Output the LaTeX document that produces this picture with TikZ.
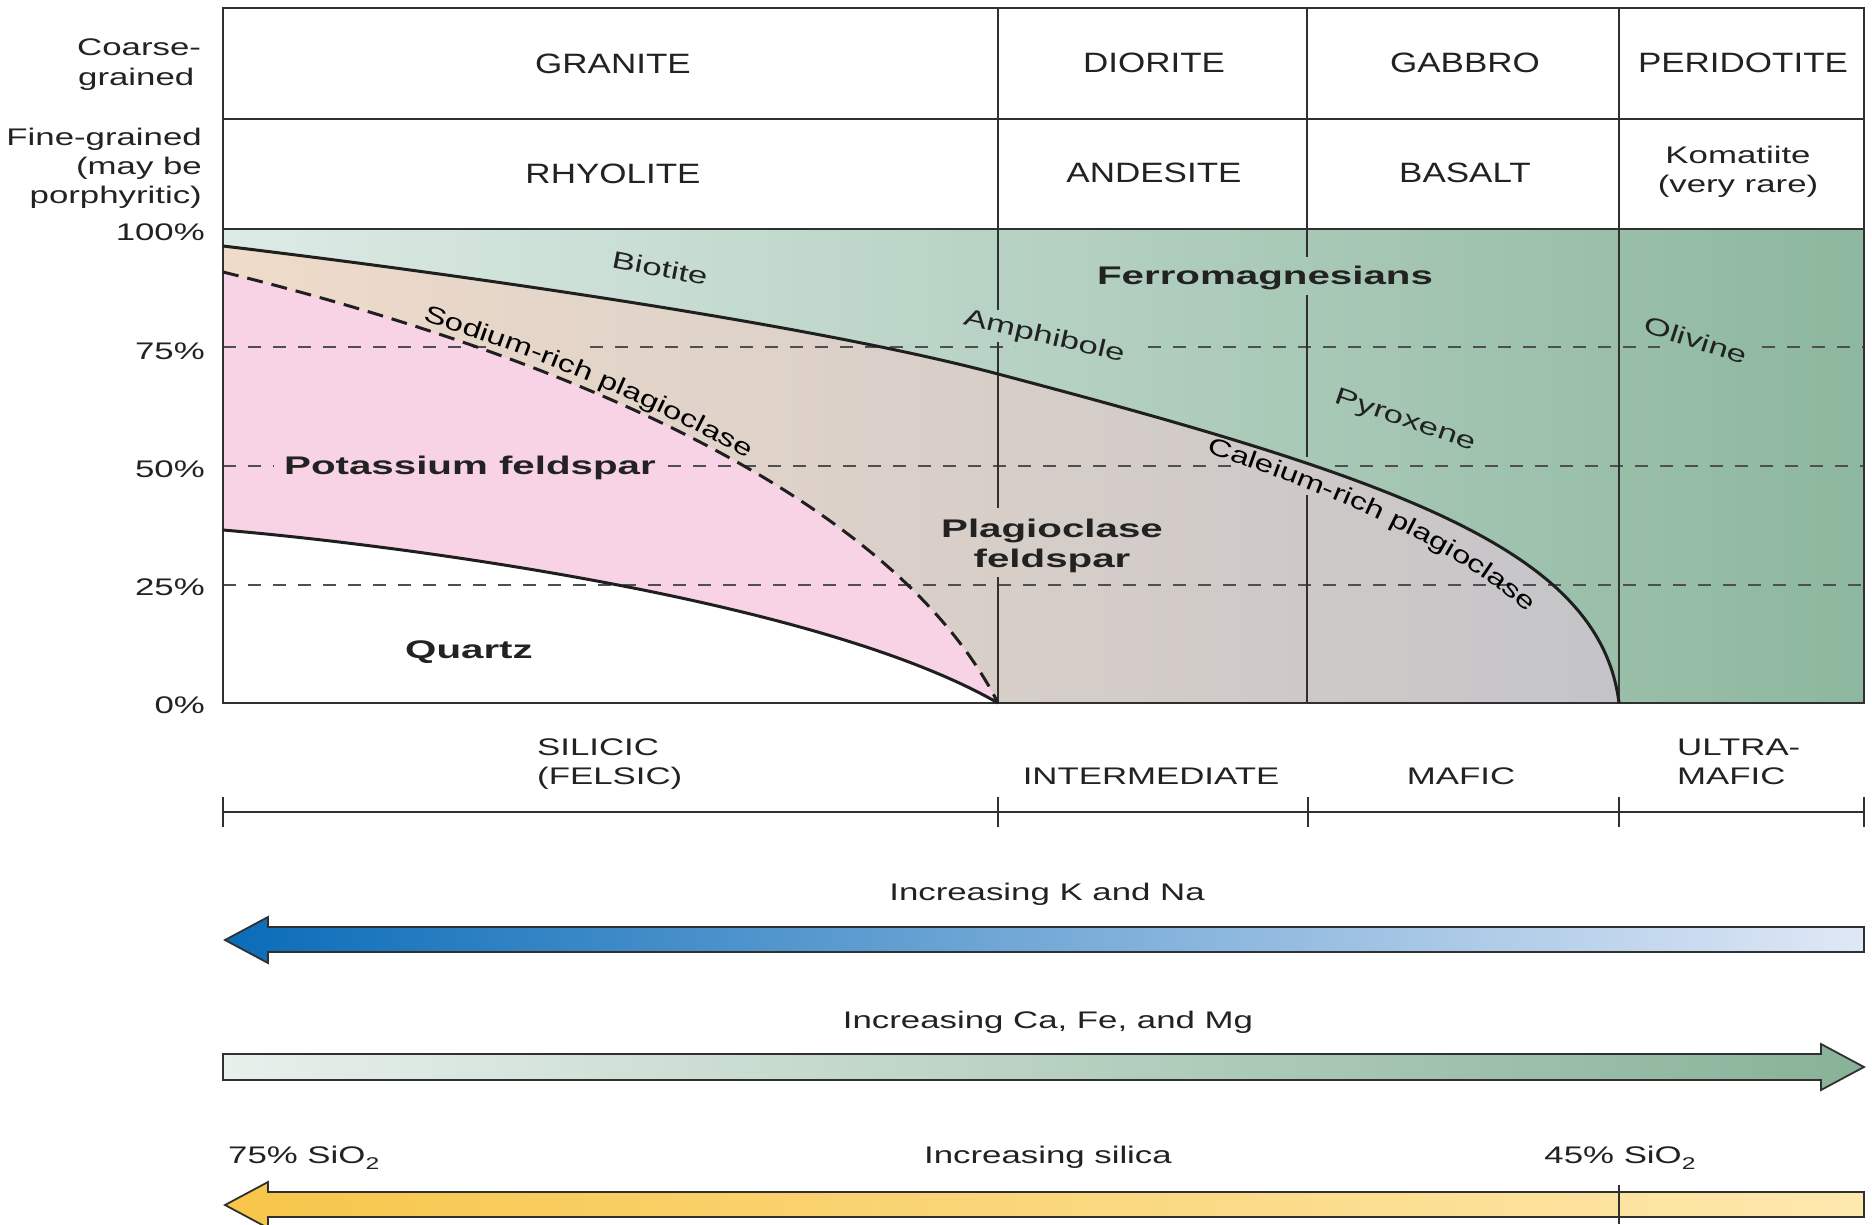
\documentclass[tikz,border=0pt]{standalone}
\usepackage{fontspec}
\setmainfont{Liberation Sans}
\newfontfamily\fA[FakeStretch=1.25]{Liberation Sans}
\newfontfamily\fB[FakeStretch=1.45]{Liberation Sans}
\newfontfamily\fC[FakeStretch=1.58]{Liberation Sans}
\newfontfamily\fD[FakeStretch=1.38]{Liberation Sans}
\usetikzlibrary{decorations.text}
\definecolor{lineC}{HTML}{303030}
\definecolor{txt}{HTML}{222222}
\definecolor{grnL}{HTML}{DDEBE6}
\definecolor{grnM}{HTML}{BCD7CB}
\definecolor{grnR}{HTML}{8DB79E}
\definecolor{plgL}{HTML}{EFDBC9}
\definecolor{plgM}{HTML}{D8CFCB}
\definecolor{plgR}{HTML}{C4C4C8}
\definecolor{pinkF}{HTML}{F8D3E5}
\definecolor{bluL}{HTML}{0A6CB8}
\definecolor{bluM}{HTML}{6E9DD7}
\definecolor{bluR}{HTML}{E0E8F6}
\definecolor{gaL}{HTML}{E8F0EC}
\definecolor{gaM}{HTML}{BBD4C7}
\definecolor{gaR}{HTML}{88B298}
\definecolor{yeL}{HTML}{F7C64A}
\definecolor{yeM}{HTML}{FAD883}
\definecolor{yeR}{HTML}{FDE8AE}
\tikzset{
  tab/.style={font=\fA\fontsize{28}{32}\selectfont, text=txt, inner sep=0pt},
  lab/.style={font=\fB\fontsize{24}{28}\selectfont, text=txt, inner sep=0pt},
  heavy/.style={font=\fC\bfseries\fontsize{25.5}{30}\selectfont, text=txt, inner sep=0pt},
  grid/.style={draw=lineC, line width=1.6pt},
  dashline/.style={draw=lineC!85, line width=1.8pt, dash pattern=on 13pt off 12pt},
  bound/.style={draw=black!88, line width=3pt},
  arrowshape/.style={draw=lineC, line width=1.8pt, line join=miter},
}
\begin{document}
\begin{tikzpicture}[x=1pt,y=-1pt]
\useasboundingbox (0,0) rectangle (1872,1224);
\clip (0,0) rectangle (1872,1224);
\fill[white] (0,0) rectangle (1872,1224);

% ---- regions
\fill[left color=grnL, middle color=grnM, right color=grnR] (223,229) rectangle (1864,703);
\fill[left color=plgL, middle color=plgM, right color=plgR]
  (223,246) .. controls (423,270) and (798,321) .. (998,374)
  .. controls (1400,480) and (1600,550) .. (1619,703) -- (223,703) -- cycle;
\fill[pinkF] (223,272) .. controls (600,365) and (900,510) .. (998,703) -- (223,703) -- cycle;
\fill[white] (223,530) .. controls (400,545) and (820,600) .. (998,703) -- (223,703) -- cycle;

% ---- dashed percentage lines
\draw[dashline] (223,347) -- (487,347);
\draw[dashline] (590,347) -- (1015,347);
\draw[dashline] (1148,347) -- (1660,347);
\draw[dashline] (1762,347) -- (1864,347);
\draw[dashline] (223,466) -- (274,466);
\draw[dashline] (668,466) -- (1240,466);
\draw[dashline] (1335,466) -- (1864,466);
\draw[dashline] (223,585) -- (1864,585);

% ---- table grid
\draw[grid] (223,8) rectangle (1864,703);
\draw[grid] (223,119) -- (1864,119);
\draw[grid] (223,229) -- (1864,229);
\draw[grid] (998,8) -- (998,310) (998,342) -- (998,508) (998,577) -- (998,703);
\draw[grid] (1307,8) -- (1307,257) (1307,295) -- (1307,457) (1307,495) -- (1307,703);
\draw[grid] (1619,8) -- (1619,703);

% ---- boundary curves
\draw[bound] (223,246) .. controls (423,270) and (798,321) .. (998,374)
  .. controls (1400,480) and (1600,550) .. (1619,703);
\draw[bound, dash pattern=on 16pt off 9pt] (223,272) .. controls (600,365) and (900,510) .. (998,703);
\draw[bound] (223,530) .. controls (400,545) and (820,600) .. (998,703);

% ---- table labels
\node[lab, anchor=base west] (coarse1) at (77,55) {Coarse-};
\node[lab, anchor=base west] (coarse2) at (78,85) {grained};
\node[lab, anchor=base east] (fine1) at (202,145) {Fine-grained};
\node[lab, anchor=base east] (fine2) at (202,174) {(may be};
\node[lab, anchor=base east] (fine3) at (202,203) {porphyritic)};
\node[tab, anchor=base] (granite) at (613,73) {GRANITE};
\node[tab, anchor=base] (diorite) at (1154,72) {DIORITE};
\node[tab, anchor=base] (gabbro) at (1465,72) {GABBRO};
\node[tab, anchor=base] (peridotite) at (1743,72) {PERIDOTITE};
\node[tab, anchor=base] (rhyolite) at (613,183) {RHYOLITE};
\node[tab, anchor=base] (andesite) at (1154,182) {ANDESITE};
\node[tab, anchor=base] (basalt) at (1465,182) {BASALT};
\node[lab, anchor=base] (komatiite) at (1738,163) {Komatiite};
\node[lab, anchor=base] (veryrare) at (1738,192) {(very rare)};

% ---- percent labels
\node[lab, anchor=base east] (p100) at (205,240) {100\%};
\node[lab, anchor=base east] (p75) at (205,359) {75\%};
\node[lab, anchor=base east] (p50) at (205,477) {50\%};
\node[lab, anchor=base east] (p25) at (205,595) {25\%};
\node[lab, anchor=base east] (p0) at (205,713) {0\%};

% ---- chart labels
\node[lab, rotate=-11] (biotite) at (660,268) {Biotite};
\node[lab, rotate=-13] (amphibole) at (1044,337) {Amphibole};
\node[lab, rotate=-18] (olivine) at (1696,340) {Olivine};
\node[lab, rotate=-19] (pyroxene) at (1405,421) {Pyroxene};
\node[heavy, anchor=base] (ferro) at (1265,284) {Ferromagnesians};
\node[heavy, anchor=base] (kfs) at (470,474) {Potassium feldspar};
\node[heavy, anchor=base] (quartz) at (469,658) {Quartz};
\node[heavy, anchor=base] (plag1) at (1052,537) {Plagioclase};
\node[heavy, anchor=base] (plag2) at (1052,567) {feldspar};
\path[decorate, decoration={text along path,
    text={|\fD\fontsize{24}{28}\selectfont|Sodium-rich plagioclase},
    raise=8pt, text align={left indent=205pt}}]
  (223,272) .. controls (600,365) and (900,510) .. (998,703);
\path[decorate, decoration={text along path,
    text={|\fD\fontsize{24}{28}\selectfont|Caleium-rich plagioclase},
    text align={left indent=2pt}}]
  (1205,452) .. controls (1300,484) and (1440,535) .. (1527,612) -- (1550,640);

% ---- composition scale
\node[lab, anchor=base west] (silicic1) at (537,755) {SILICIC};
\node[lab, anchor=base west] (silicic2) at (537,784) {(FELSIC)};
\node[lab, anchor=base] (interm) at (1151,784) {INTERMEDIATE};
\node[lab, anchor=base] (mafic) at (1461,784) {MAFIC};
\node[lab, anchor=base west] (ultra1) at (1677,755) {ULTRA-};
\node[lab, anchor=base west] (ultra2) at (1677,784) {MAFIC};
\draw[grid] (223,812) -- (1864,812);
\foreach \tx in {223,998,1308,1619,1864} { \draw[grid] (\tx,797) -- (\tx,827); }

% ---- trend arrows
\node[lab, anchor=base] (kna) at (1047,900) {Increasing K and Na};
\draw[arrowshape, left color=bluL, middle color=bluM, right color=bluR]
  (225,940) -- (268,917) -- (268,927) -- (1864,927) -- (1864,952) -- (268,952) -- (268,963) -- cycle;
\node[lab, anchor=base] (cafe) at (1048,1028) {Increasing Ca, Fe, and Mg};
\draw[arrowshape, left color=gaL, middle color=gaM, right color=gaR]
  (223,1054) -- (1821,1054) -- (1821,1044) -- (1864,1067) -- (1821,1090) -- (1821,1080) -- (223,1080) -- cycle;
\node[lab, anchor=base west] (si75) at (228,1163) {75\% SiO\raisebox{-6pt}{\fontsize{17}{20}\selectfont 2}};
\node[lab, anchor=base] (silica) at (1048,1163) {Increasing silica};
\node[lab, anchor=base] (si45) at (1620,1163) {45\% SiO\raisebox{-6pt}{\fontsize{17}{20}\selectfont 2}};
\draw[arrowshape, left color=yeL, middle color=yeM, right color=yeR]
  (225,1205) -- (268,1182) -- (268,1192) -- (1864,1192) -- (1864,1217) -- (268,1217) -- (268,1228) -- cycle;
\draw[grid] (1619,1185) -- (1619,1224);
\end{tikzpicture}
\end{document}
